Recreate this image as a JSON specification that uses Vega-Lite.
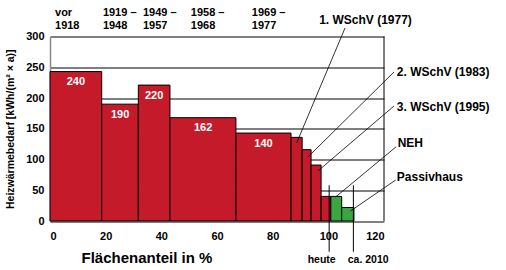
{
  "$schema": "https://vega.github.io/schema/vega-lite/v6.json",
  "width": 334,
  "height": 184.5,
  "autosize": {"type": "none"},
  "padding": {"left": 50, "top": 36.5, "right": 122, "bottom": 49},
  "background": "white",
  "config": {
    "view": {"stroke": null},
    "font": "Liberation Sans",
    "axis": {"labelFont": "Liberation Sans", "titleFont": "Liberation Sans", "labelFontWeight": "bold", "titleFontWeight": "bold", "labelColor": "#000", "titleColor": "#000", "labelFontSize": 11, "ticks": false},
    "axisY": {"tickCount": 10, "grid": true, "gridColor": "#000", "gridOpacity": 1, "gridWidth": 1, "domainColor": "#8a8a8a", "domainWidth": 1.5, "labelPadding": 6, "labelOverlap": false, "titleFontSize": 10.5, "titleFontWeight": "bold", "titleX": -40, "titleBaseline": "middle"},
    "axisX": {"tickCount": 10, "grid": false, "domain": false, "labelPadding": 9, "labelOverlap": false, "titleFontSize": 15, "titleX": 31, "titleY": 36, "titleAlign": "left", "titleBaseline": "middle"}
  },
  "datasets": {
    "bars": [
      {"x": 0, "x2": 18.58, "h": 243, "mid": 9.3, "label": "240", "type": "alt"},
      {"x": 18.58, "x2": 31.73, "h": 190, "mid": 25.2, "label": "190", "type": "alt"},
      {"x": 31.73, "x2": 43.1, "h": 221, "mid": 37.4, "label": "220", "type": "alt"},
      {"x": 43.1, "x2": 66.8, "h": 168, "mid": 55.0, "label": "162", "type": "alt"},
      {"x": 66.8, "x2": 86.6, "h": 143, "mid": 76.7, "label": "140", "type": "alt"},
      {"x": 86.6, "x2": 90.6, "h": 136, "mid": 88.6, "label": "", "type": "alt"},
      {"x": 90.6, "x2": 93.8, "h": 116, "mid": 92.2, "label": "", "type": "alt"},
      {"x": 93.8, "x2": 97.4, "h": 91, "mid": 95.6, "label": "", "type": "alt"},
      {"x": 97.4, "x2": 100.9, "h": 40, "mid": 99.1, "label": "", "type": "alt"},
      {"x": 100.9, "x2": 104.8, "h": 40, "mid": 102.8, "label": "", "type": "neu"},
      {"x": 104.8, "x2": 109.2, "h": 22, "mid": 107.0, "label": "", "type": "neu"}
    ],
    "periods": [
      {"x": 1.8, "y": 348.5, "t": "vor\n1918"},
      {"x": 19.0, "y": 348.5, "t": "1919 –\n1948"},
      {"x": 33.4, "y": 348.5, "t": "1949 –\n1957"},
      {"x": 50.6, "y": 348.5, "t": "1958 –\n1968"},
      {"x": 72.5, "y": 348.5, "t": "1969 –\n1977"}
    ],
    "notes": [
      {"tx": 96.7, "ty": 326.8, "t": "1. WSchV (1977)", "x1": 106.0, "y1": 313.8, "x2": 88.6, "y2": 126.8},
      {"tx": 124.6, "ty": 242.8, "t": "2. WSchV (1983)", "x1": 123.6, "y1": 242.3, "x2": 92.8, "y2": 104.6},
      {"tx": 124.6, "ty": 184.9, "t": "3. WSchV (1995)", "x1": 123.6, "y1": 187, "x2": 96.4, "y2": 81.8},
      {"tx": 124.9, "ty": 126.3, "t": "NEH", "x1": 124.4, "y1": 120.8, "x2": 102.6, "y2": 39},
      {"tx": 124.6, "ty": 72, "t": "Passivhaus", "x1": 124.2, "y1": 66.7, "x2": 108, "y2": 16.3}
    ],
    "marks": [
      {"x": 100.3, "y1": 58, "y2": -50, "lx": 97.6, "ly": -63.4, "t": "heute"},
      {"x": 109.0, "y1": 58, "y2": -50, "lx": 114.3, "ly": -63.4, "t": "ca. 2010"}
    ],
    "frame": [{"x": 120, "y1": 0, "y2": 300}]
  },
  "layer": [
    {
      "data": {"name": "bars"},
      "mark": {"type": "rect", "stroke": "#000", "strokeWidth": 1},
      "encoding": {
        "x": {"field": "x", "type": "quantitative", "scale": {"domain": [0, 120], "nice": false},
          "axis": {"values": [0, 20, 40, 60, 80, 100, 120], "title": "Flächenanteil in %"}},
        "x2": {"field": "x2"},
        "y": {"field": "h", "type": "quantitative", "scale": {"domain": [0, 300], "nice": false},
          "axis": {"values": [0, 50, 100, 150, 200, 250, 300], "title": "Heizwärmebedarf [kWh/(m² × a)]"}},
        "y2": {"datum": 0},
        "color": {"field": "type", "type": "nominal", "scale": {"domain": ["alt", "neu"], "range": ["#c41a2a", "#3aa642"]}, "legend": null}
      }
    },
    {
      "data": {"name": "bars"},
      "mark": {"type": "text", "color": "white", "fontWeight": "bold", "fontSize": 11, "baseline": "middle", "align": "center", "dy": 10.5},
      "encoding": {
        "x": {"field": "mid", "type": "quantitative"},
        "y": {"field": "h", "type": "quantitative"},
        "text": {"field": "label"}
      }
    },
    {
      "data": {"name": "frame"},
      "mark": {"type": "rule", "color": "#000", "strokeWidth": 1},
      "encoding": {
        "x": {"field": "x", "type": "quantitative"},
        "y": {"field": "y1", "type": "quantitative"},
        "y2": {"field": "y2"}
      }
    },
    {
      "data": {"name": "periods"},
      "mark": {"type": "text", "align": "left", "baseline": "top", "fontWeight": "bold", "fontSize": 11, "lineBreak": "\n", "lineHeight": 13.5, "color": "#000"},
      "encoding": {
        "x": {"field": "x", "type": "quantitative"},
        "y": {"field": "y", "type": "quantitative"},
        "text": {"field": "t"}
      }
    },
    {
      "data": {"name": "notes"},
      "mark": {"type": "rule", "color": "#000", "strokeWidth": 0.8},
      "encoding": {
        "x": {"field": "x1", "type": "quantitative"},
        "y": {"field": "y1", "type": "quantitative"},
        "x2": {"field": "x2"},
        "y2": {"field": "y2"}
      }
    },
    {
      "data": {"name": "notes"},
      "mark": {"type": "text", "align": "left", "baseline": "middle", "fontWeight": "bold", "fontSize": 12, "color": "#000"},
      "encoding": {
        "x": {"field": "tx", "type": "quantitative"},
        "y": {"field": "ty", "type": "quantitative"},
        "text": {"field": "t"}
      }
    },
    {
      "data": {"name": "marks"},
      "mark": {"type": "rule", "color": "#000", "strokeWidth": 1},
      "encoding": {
        "x": {"field": "x", "type": "quantitative"},
        "y": {"field": "y1", "type": "quantitative"},
        "y2": {"field": "y2"}
      }
    },
    {
      "data": {"name": "marks"},
      "mark": {"type": "text", "align": "center", "baseline": "middle", "fontWeight": "bold", "fontSize": 10.5, "color": "#000"},
      "encoding": {
        "x": {"field": "lx", "type": "quantitative"},
        "y": {"field": "ly", "type": "quantitative"},
        "text": {"field": "t"}
      }
    }
  ]
}
